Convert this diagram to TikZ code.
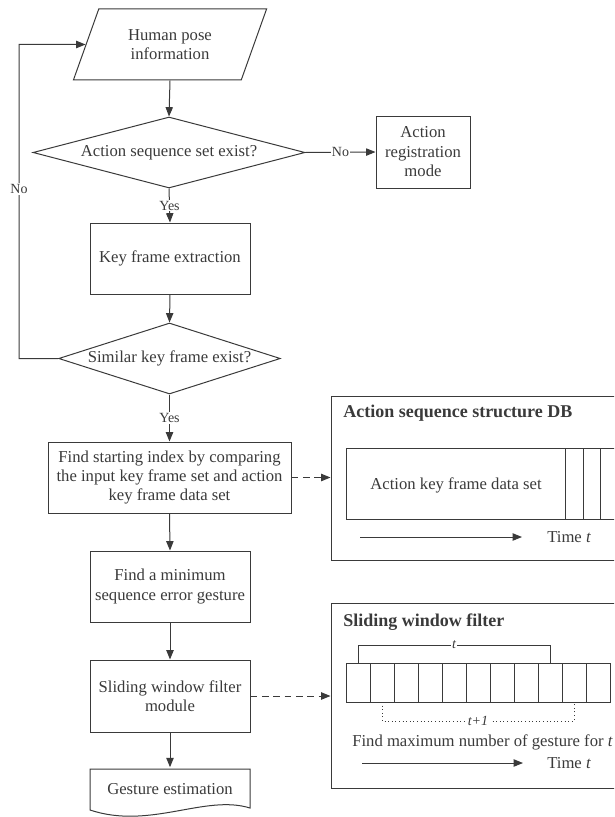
\documentclass[tikz,border=0pt]{standalone}
\usepackage{fontspec}
\setmainfont{Liberation Serif}
\usetikzlibrary{arrows.meta,shapes.geometric}
\definecolor{ink}{HTML}{3A3A3A}
\begin{document}
\begin{tikzpicture}[x=0.75pt,y=-0.75pt,
  base/.style={draw=ink, line width=0.75pt, text=ink, font=\fontsize{12.5pt}{14.6pt}\selectfont, align=center, inner sep=0pt},
  proc/.style={base, rectangle, minimum width=120pt, minimum height=53.25pt},
  dec/.style={base, diamond, shape aspect=3.8, minimum height=53.25pt},
  panel/.style={draw=ink, line width=0.75pt, rectangle, inner sep=0pt},
  arr/.style={draw=ink, line width=0.75pt, -{Triangle[length=7pt,width=5.5pt]}},
  darr/.style={arr, dash pattern=on 5pt off 3.5pt},
  lbl/.style={fill=white, text=ink, font=\fontsize{10.5pt}{12pt}\selectfont, inner sep=1pt},
  txt/.style={text=ink, font=\fontsize{12.5pt}{14.6pt}\selectfont, inner sep=0pt},
  ttl/.style={text=ink, font=\fontsize{13.5pt}{16pt}\selectfont\bfseries, inner sep=0pt},
  thin/.style={draw=ink, line width=0.7pt}]
\useasboundingbox (0,0) rectangle (614,817);
\clip (0,0) rectangle (614,817);

% main flow
\node[base, trapezium, trapezium left angle=64, trapezium right angle=116, trapezium stretches=true,
      minimum width=145.5pt, minimum height=53.25pt] (hp) at (170,44.5) {Human pose\\information};
\node[dec, minimum width=204pt] (d1) at (169,152.5) {Action sequence set exist?};
\node[proc, minimum width=70.5pt, minimum height=54pt] (reg) at (423,152) {Action\\registration\\mode};
\node[proc] (kf) at (170,258.5) {Key frame extraction};
\node[dec, minimum width=156.75pt] (d2) at (169.5,358.5) {Similar key frame exist?};
\node[proc, minimum width=182.25pt, minimum height=53.25pt] (fs) at (169.5,477.5)
  {Find starting index by comparing\\the input key frame set and action\\key frame data set};
\node[proc] (fm) at (170,586.5) {Find a minimum\\sequence error gesture};
\node[proc, minimum height=54pt] (sw) at (170,696) {Sliding window filter\\module};
\node[txt, minimum width=120pt, minimum height=32.25pt] (ge) at (170,789) {Gesture estimation};
\draw[draw=ink, line width=0.75pt] (90,769) -- (250,769) -- (250,808)
  .. controls (205,794) and (150,830) .. (90,810) -- cycle;

% connectors
\draw[arr] (hp.south) -- (d1.north);
\draw[arr] (d1.south) -- node[lbl]{Yes} (kf.north);
\draw[arr] (kf.south) -- (d2.north);
\draw[arr] (d2.south) -- node[lbl]{Yes} (fs.north);
\draw[arr] (fs.south) -- (fm.north);
\draw[arr] (fm.south) -- (sw.north);
\draw[arr] (sw.south) -- (ge.north);
\draw[arr] (d1.east) -- node[lbl]{No} (reg.west);
\coordinate (lb) at (19,358.5);
\coordinate (lt) at (19,44.5);
\draw[arr] (d2.west) -- (lb) -- node[lbl, pos=0.54]{No} (lt) -- (hp.west);

% panel 1
\node[panel, minimum width=239.25pt, minimum height=123pt] (p1) at (490.5,478) {};
\node[ttl, anchor=west] (t1) at (343,413) {Action sequence structure DB};
\draw[thin] (346,448) rectangle (680,519);
\draw[thin] (565,448) -- (565,519) (583,448) -- (583,519) (600,448) -- (600,519);
\node[txt] (akf) at (456,485) {Action key frame data set};
\coordinate (ta1) at (360,537);
\coordinate (ta2) at (522,537);
\draw[arr] (ta1) -- (ta2);
\node[txt, anchor=west] (tt1) at (547,537) {Time \textit{t}};

% panel 2
\node[panel, minimum width=239.25pt, minimum height=138.75pt] (p2) at (490.5,695.5) {};
\node[ttl, anchor=west] (t2) at (343,622) {Sliding window filter};
\foreach \i in {0,...,10} {
  \draw[thin] ({346+24*\i},663) rectangle ({370+24*\i},702);
}
\coordinate (b1) at (358,663);
\coordinate (b2) at (550,663);
\draw[thin] (b1) -- (358,645) -- node[lbl, font=\fontsize{10.5pt}{12pt}\selectfont\itshape]{t} (550,645) -- (b2);
\coordinate (c1) at (382,702);
\coordinate (c2) at (574,702);
\draw[thin, dotted] (c1) -- (382,721) -- node[lbl, font=\fontsize{10.5pt}{12pt}\selectfont\itshape]{t+1} (574,721) -- (c2);
\node[txt, anchor=west] (fmx) at (352,742) {Find maximum number of gesture for \textit{t}};
\coordinate (tb1) at (362,763);
\coordinate (tb2) at (523,763);
\draw[arr] (tb1) -- (tb2);
\node[txt, anchor=west] (tt2) at (547,763) {Time \textit{t}};

% dashed links
\draw[darr] (fs.east) -- (fs.east -| p1.west);
\draw[darr] (sw.east) -- (sw.east -| p2.west);
\end{tikzpicture}
\end{document}
